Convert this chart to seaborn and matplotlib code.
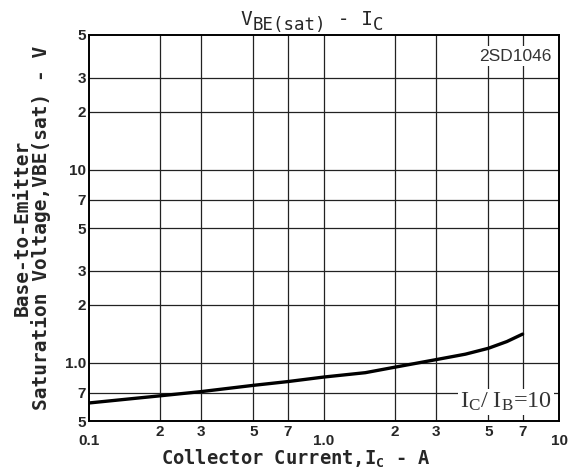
import numpy as np
import matplotlib
matplotlib.use("Agg")
import matplotlib.pyplot as plt
from matplotlib.ticker import FixedLocator, FixedFormatter
from matplotlib.font_manager import FontProperties
import seaborn as sns

# VBE(sat) vs IC curve for 2SD1046
ic = [0.1, 0.2, 0.3, 0.5, 0.7, 1.0, 1.5, 2.0, 3.0, 4.0, 5.0, 6.0, 7.0]
vbe = [0.62, 0.675, 0.71, 0.765, 0.80, 0.845, 0.89, 0.95, 1.04, 1.11, 1.19, 1.29, 1.41]

x_major = [0.1, 1.0, 10.0]
x_major_labels = ["0.1", "1.0", "10"]
x_minor = [0.2, 0.3, 0.5, 0.7, 2, 3, 5, 7]
x_minor_labels = ["2", "3", "5", "7", "2", "3", "5", "7"]
y_ticks = [0.5, 0.7, 1.0, 2, 3, 5, 7, 10, 20, 30, 50]
y_labels = ["5", "7", "1.0", "2", "3", "5", "7", "10", "2", "3", "5"]

sns.set_style("white")
plt.rcParams["font.family"] = ["DejaVu Sans"]
plt.rcParams["mathtext.default"] = "regular"

fig = plt.figure(figsize=(5.69, 4.73), dpi=100)
ax = fig.add_axes([89 / 569, 1 - 421 / 473, 470 / 569, 386 / 473])

sns.lineplot(x=ic, y=vbe, color="black", linewidth=2.4, ax=ax, zorder=5)

ax.set_xscale("log")
ax.set_yscale("log")
ax.set_xlim(0.1, 10)
ax.set_ylim(0.5, 50)

# grid lines at the printed values only
for v in x_minor + [1.0]:
    ax.axvline(v, color="#222222", linewidth=0.9, zorder=1)
for v in y_ticks[1:-1]:
    ax.axhline(v, color="#222222", linewidth=0.9, zorder=1)

ax.xaxis.set_major_locator(FixedLocator(x_major))
ax.xaxis.set_major_formatter(FixedFormatter(x_major_labels))
ax.xaxis.set_minor_locator(FixedLocator(x_minor))
ax.xaxis.set_minor_formatter(FixedFormatter(x_minor_labels))
ax.yaxis.set_major_locator(FixedLocator(y_ticks))
ax.yaxis.set_major_formatter(FixedFormatter(y_labels))
ax.yaxis.set_minor_locator(FixedLocator([]))

tick_font = FontProperties(family="Liberation Sans", weight="bold", size=11)
ax.tick_params(axis="x", which="major", length=0, pad=9)
ax.tick_params(axis="x", which="minor", length=0, pad=3)
ax.tick_params(axis="y", which="both", length=0, pad=2)
for lab in ax.get_xticklabels(which="both") + ax.get_yticklabels():
    lab.set_fontproperties(tick_font)

for s in ax.spines.values():
    s.set_color("black")
    s.set_linewidth(1.4)

ax.set_xlabel(r"Collector Current,$I_C$ - A", fontsize=13.5, family="DejaVu Sans Mono",
              weight="bold")
ax.xaxis.set_label_coords(0.44, -0.07)
ax.set_ylabel("Base-to-Emitter\nSaturation Voltage,VBE(sat) - V", fontsize=14,
              family="DejaVu Sans Mono", weight="bold", linespacing=1.0)
ax.yaxis.set_label_coords(-0.08, 0.5)

# title with near full-size subscripts, built from pieces
mono = "DejaVu Sans Mono"
t0 = fig.text(0.0, 1 - 25 / 473, "V", fontsize=14, family=mono, va="baseline")
t1 = ax.annotate("BE(sat)", xy=(1, 0), xycoords=t0, xytext=(0, -3.5),
                 textcoords="offset points", fontsize=12.5, family=mono, va="bottom")
t2 = ax.annotate(" - I", xy=(1, 0), xycoords=t1, xytext=(0, 3.5),
                 textcoords="offset points", fontsize=14, family=mono, va="bottom")
t3 = ax.annotate("C", xy=(1, 0), xycoords=t2, xytext=(0, -3.5),
                 textcoords="offset points", fontsize=12.5, family=mono, va="bottom")
fig.canvas.draw()
r = fig.canvas.get_renderer()
x_left = t0.get_window_extent(r).x0
x_right = t3.get_window_extent(r).x1
width = (x_right - x_left) / fig.bbox.width
t0.set_x(312 / 569 - width / 2)

ax.text(0.985, 0.965, "2SD1046", transform=ax.transAxes, ha="right", va="top",
        fontsize=12.5, family="Liberation Sans", color="#333333", zorder=6,
        bbox=dict(facecolor="white", edgecolor="none", pad=2))
ax.text(0.985, 0.02, r"$I_C$/ $I_B$=10", transform=ax.transAxes, ha="right", va="bottom",
        fontsize=17.5, family="Liberation Serif", color="#333333", zorder=6,
        bbox=dict(facecolor="white", edgecolor="none", pad=1.5))

fig.savefig("out.png", dpi=100)
